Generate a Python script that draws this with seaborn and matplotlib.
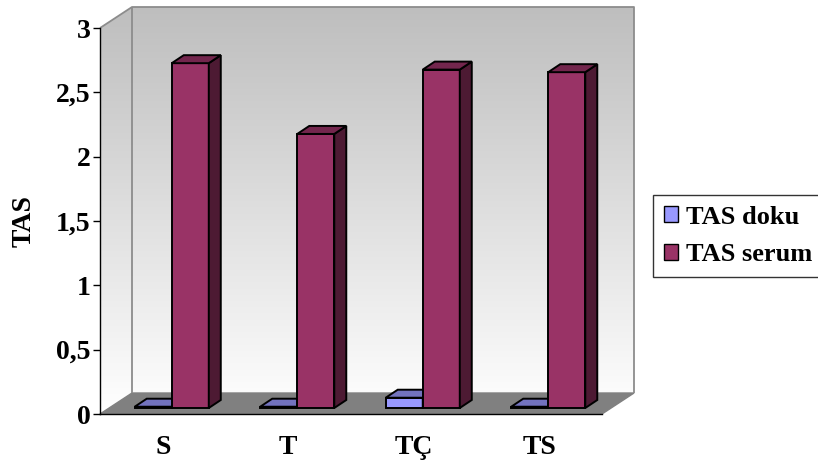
import numpy as np
import pandas as pd
import matplotlib
matplotlib.use("Agg")
import matplotlib.pyplot as plt
from matplotlib.patches import Polygon, Patch
import seaborn as sns

# Data
groups = ["S", "T", "TÇ", "TS"]
tas_doku = [0.01, 0.01, 0.08, 0.01]
tas_serum = [2.68, 2.13, 2.63, 2.61]
series_names = ["TAS doku", "TAS serum"]
y_ticks = [0, 0.5, 1, 1.5, 2, 2.5, 3]
y_tick_labels = ["0", "0,5", "1", "1,5", "2", "2,5", "3"]

# Colours (front, top, side) per series
front_cols = ["#9999ff", "#993366"]
top_cols = ["#7373bf", "#73264d"]
side_cols = ["#4d4d80", "#4d1a33"]

sns.set_style("white")
plt.rcParams["font.family"] = ["Liberation Serif", "DejaVu Serif"]
plt.rcParams["font.weight"] = "bold"
plt.rcParams["text.color"] = "black"
plt.rcParams["axes.labelcolor"] = "black"
plt.rcParams["xtick.color"] = "black"
plt.rcParams["ytick.color"] = "black"

df = pd.DataFrame({
    "grup": groups * 2,
    "seri": [series_names[0]] * len(groups) + [series_names[1]] * len(groups),
    "deger": tas_doku + tas_serum,
})

W, H = 818, 465
fig = plt.figure(figsize=(W / 100, H / 100), dpi=100)
ax = fig.add_axes([100 / W, (H - 414) / H, 502 / W, 386 / H])

sns.barplot(data=df, x="grup", y="deger", hue="seri", palette=front_cols,
            saturation=1, width=0.59, edgecolor="black", linewidth=1.4,
            errorbar=None, legend=False, ax=ax)
ax.set_xlim(-0.5, 3.5)
ax.set_ylim(0, 3)

# pixel -> data unit conversion
p0 = ax.transData.transform((0, 0))
sx = ax.transData.transform((1, 0))[0] - p0[0]
sy = ax.transData.transform((0, 1))[1] - p0[1]


def px(dx, dy):
    return dx / sx, dy / sy


wall_dx, wall_dy = px(32, 21)
shift_dx, shift_dy = px(9, 6)
bar_dx, bar_dy = px(12, 8)

x0, x1 = ax.get_xlim()
y0, y1 = ax.get_ylim()

# Back and side walls with a vertical gradient
grad = np.linspace(0, 1, 256)[:, None]
top_c = np.array([0.745, 0.745, 0.745])
bot_c = np.array([1.0, 1.0, 1.0])
img = top_c + (bot_c - top_c) * grad
img = img[:, None, :].repeat(2, axis=1)
im = ax.imshow(img, extent=[x0, x1 + wall_dx, y0, y1 + wall_dy],
               origin="upper", aspect="auto", zorder=0, interpolation="bilinear")
wall_clip = Polygon([(x0, y0), (x0, y1), (x0 + wall_dx, y1 + wall_dy),
                     (x1 + wall_dx, y1 + wall_dy), (x1 + wall_dx, y0 + wall_dy),
                     (x0 + wall_dx, y0 + wall_dy)], closed=True,
                    transform=ax.transData, facecolor="none", edgecolor="none")
im.set_clip_path(wall_clip)
im.set_clip_box(fig.bbox)

# Floor
floor = Polygon([(x0, y0), (x1, y0), (x1 + wall_dx, y0 + wall_dy),
                 (x0 + wall_dx, y0 + wall_dy)], closed=True,
                facecolor="#808080", edgecolor="#808080", lw=1,
                zorder=0.5, clip_on=False)
ax.add_patch(floor)

# Wall edges
edge_kw = dict(color="#8c8c8c", lw=1.3, zorder=0.6, clip_on=False,
               solid_capstyle="butt")
ax.plot([x0, x0 + wall_dx, x1 + wall_dx, x1 + wall_dx],
        [y1, y1 + wall_dy, y1 + wall_dy, y0 + wall_dy], **edge_kw)
ax.plot([x0 + wall_dx, x0 + wall_dx], [y1 + wall_dy, y0 + wall_dy], **edge_kw)

ax.set_xlim(x0, x1)
ax.set_ylim(y0, y1)

# Give the bars depth: move them back, add top and side faces
for si, cont in enumerate(ax.containers):
    for bi, rect in enumerate(cont):
        x, y = rect.get_xy()
        w, h = rect.get_width(), rect.get_height()
        x += shift_dx
        y += shift_dy
        rect.set_xy((x, y))
        z = 2 + bi + si * 0.5
        rect.set_zorder(z)
        top = Polygon([(x, y + h), (x + w, y + h), (x + w + bar_dx, y + h + bar_dy),
                       (x + bar_dx, y + h + bar_dy)], closed=True,
                      facecolor=top_cols[si], edgecolor="black", lw=1.4,
                      joinstyle="miter", zorder=z, clip_on=False)
        side = Polygon([(x + w, y), (x + w + bar_dx, y + bar_dy),
                        (x + w + bar_dx, y + h + bar_dy), (x + w, y + h)],
                       closed=True, facecolor=side_cols[si], edgecolor="black",
                       lw=1.4, joinstyle="miter", zorder=z, clip_on=False)
        ax.add_patch(side)
        ax.add_patch(top)

# Axes styling
for s in ["top", "right"]:
    ax.spines[s].set_visible(False)
for s in ["left", "bottom"]:
    ax.spines[s].set_color("black")
    ax.spines[s].set_linewidth(1.0)
    ax.spines[s].set_zorder(1)

ax.set_yticks(y_ticks)
ax.set_yticklabels(y_tick_labels)
ax.set_xticks(range(len(groups)))
ax.set_xticklabels(groups)
ax.set_xticks(np.arange(-0.5, len(groups), 1.0), minor=True)
ax.tick_params(axis="x", which="major", length=0, pad=15, labelsize=20)
ax.tick_params(axis="x", which="minor", length=6, width=1, color="black",
               direction="out")
ax.tick_params(axis="y", length=5, width=1, color="black", direction="out",
               labelsize=20, pad=2, left=True)
for lab in ax.get_xticklabels() + ax.get_yticklabels():
    lab.set_fontweight("bold")
    lab.set_color("black")

ax.set_xlabel("")
ax.set_ylabel("TAS", fontsize=20, fontweight="bold", labelpad=14, color="black")

handles = [Patch(facecolor=front_cols[i], edgecolor="black", lw=1,
                 label=series_names[i]) for i in range(2)]
leg = fig.legend(handles=handles, loc="upper left",
                 bbox_to_anchor=(653 / W, 1 - 195 / H), borderaxespad=0,
                 prop={"size": 19, "weight": "bold"}, handlelength=0.55,
                 handleheight=0.55, handletextpad=0.3, labelspacing=0.55,
                 borderpad=0.4, fancybox=False, frameon=True)
leg.get_frame().set_edgecolor("black")
leg.get_frame().set_linewidth(1.0)
leg.get_frame().set_facecolor("white")
for t in leg.get_texts():
    t.set_color("black")

fig.patch.set_facecolor("white")
fig.savefig("out.png", dpi=100, facecolor="white")
